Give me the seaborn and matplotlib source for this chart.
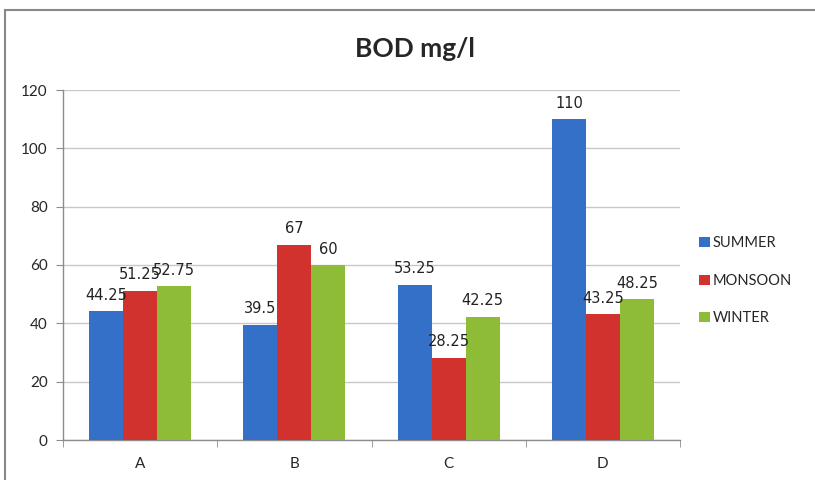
import matplotlib
matplotlib.use("Agg")
import matplotlib.pyplot as plt
import seaborn as sns
import pandas as pd
from matplotlib.patches import Rectangle

categories = ["A", "B", "C", "D"]
seasons = ["SUMMER", "MONSOON", "WINTER"]
summer = [44.25, 39.5, 53.25, 110]
monsoon = [51.25, 67, 28.25, 43.25]
winter = [52.75, 60, 42.25, 48.25]
yticks = [0, 20, 40, 60, 80, 100, 120]

colors = ["#3470c8", "#d2322d", "#8fbc37"]

rows = []
for s, vals in zip(seasons, [summer, monsoon, winter]):
    for c, v in zip(categories, vals):
        rows.append({"cat": c, "season": s, "value": v})
df = pd.DataFrame(rows)

sns.set_style("white")
plt.rcParams["font.family"] = ["Lato", "DejaVu Sans"]

fig = plt.figure(figsize=(8.15, 4.8), dpi=100)
ax = fig.add_axes([63/815, 40/480, (680-63)/815, (440-90)/480])

sns.barplot(data=df, x="cat", y="value", hue="season", order=categories,
            hue_order=seasons, palette=colors, width=0.66, ax=ax,
            edgecolor="none", saturation=1, errorbar=None, zorder=3)

for cont in ax.containers:
    ax.bar_label(cont, fmt="%g", padding=6, fontsize=10.5,
                 family="DejaVu Sans", color="#222222")

ax.set_ylim(0, 120)
ax.set_xlim(-0.5, 3.5)
ax.set_yticks(yticks)
ax.yaxis.grid(True, color="#c8c8c8", linewidth=1, zorder=0)
ax.set_axisbelow(True)
ax.set_xlabel("")
ax.set_ylabel("")
for side in ["top", "right"]:
    ax.spines[side].set_visible(False)
for side in ["left", "bottom"]:
    ax.spines[side].set_color("#8c8c8c")
    ax.spines[side].set_linewidth(1)

ax.tick_params(axis="y", which="major", length=5, color="#8c8c8c",
               labelsize=11, pad=6, left=True)
ax.tick_params(axis="x", which="major", length=0, labelsize=11, pad=12)
ax.set_xticks([-0.5, 0.5, 1.5, 2.5, 3.5], minor=True)
ax.tick_params(axis="x", which="minor", length=5, color="#8c8c8c", bottom=True)

ax.set_title("BOD mg/l", fontsize=19, fontweight="bold", pad=24, x=0.57)

leg = ax.legend(loc="center left", bbox_to_anchor=(1.01, 0.455), frameon=False,
                fontsize=10.5, labelspacing=1.6, handlelength=0.7,
                handleheight=0.7, handletextpad=0.2)

fig.patches.append(Rectangle((5/815, -0.1), 1.1, 1.1 - 10/480, transform=fig.transFigure,
                             fill=False, edgecolor="#888888", linewidth=1.5))

fig.savefig("out.png", dpi=100, facecolor="white")
